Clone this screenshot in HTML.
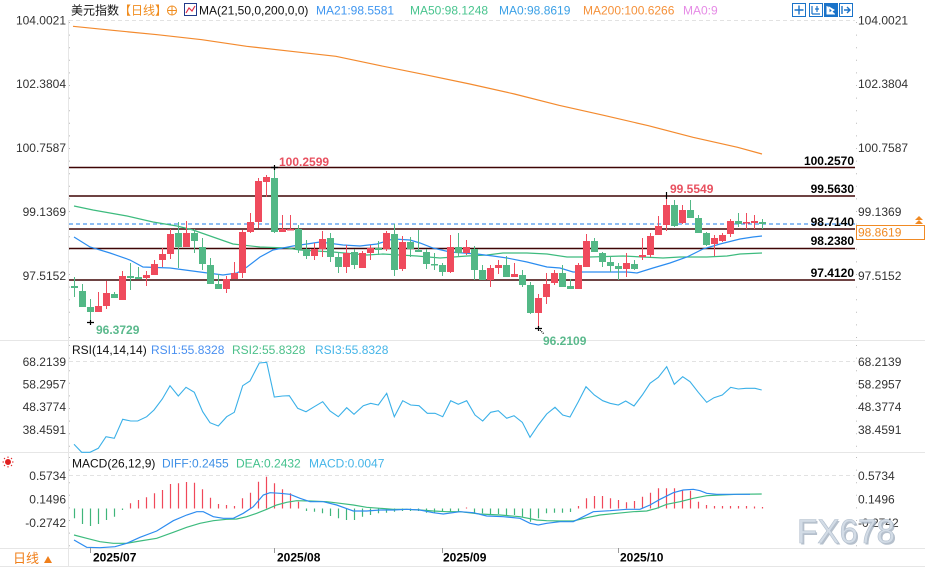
<!DOCTYPE html>
<html><head><meta charset="utf-8"><style>
html,body{margin:0;padding:0;background:#fff;}
svg{display:block;}
text{font-family:"Liberation Sans","Noto Sans CJK SC",sans-serif;font-size:12px;}
.ax{fill:#333;}
.lb{fill:#000;font-weight:bold;}
</style></head><body>
<svg width="925" height="567" viewBox="0 0 925 567" xmlns="http://www.w3.org/2000/svg">
<rect width="925" height="567" fill="#fff"/>
<!-- frame lines -->
<g stroke="#e6e6e6" stroke-width="1" fill="none">
<path d="M0,340.5H925 M0,452.5H925 M0,548.5H925 M0,566.5H925"/>
<path d="M68.5,20V567"/>
</g>
<g stroke="#bbb" stroke-width="1" stroke-dasharray="1,11.6" fill="none">
<path d="M856.5,22V340 M856.5,345V452 M856.5,457V548 M69.5,22V340 M69.5,345V452 M69.5,457V548"/>
</g>
<g stroke="#e2e2e2" stroke-dasharray="4,3" fill="none">
<path d="M69,20.5H855 M69,361.5H855 M69,475.5H855"/>
</g>

<!-- header -->
<text x="71" y="14.5" fill="#111">美元指数</text>
<text x="119" y="14.5" fill="#f08c1e">【日线】</text>
<circle cx="172" cy="10.5" r="4.5" fill="none" stroke="#f08c1e" stroke-width="1"/>
<path d="M167.5,10.5H176.5 M172,6V15" stroke="#f08c1e" stroke-width="1"/>
<rect x="184.5" y="3.5" width="12" height="12" fill="#fff" stroke="#223a8a" stroke-width="1"/>
<polyline points="186,13 189,8 192,11 195,6" fill="none" stroke="#e0304a" stroke-width="1.2"/>
<text x="199" y="14.5" fill="#111">MA(21,50,0,200,0,0)</text>
<text x="316" y="14.5" fill="#3f96f0">MA21:98.5581</text>
<text x="410" y="14.5" fill="#48c48e">MA50:98.1248</text>
<text x="499" y="14.5" fill="#3aa0e6">MA0:98.8619</text>
<text x="583" y="14.5" fill="#f5913a">MA200:100.6266</text>
<text x="683" y="14.5" fill="#e68be6">MA0:9</text>
<!-- top-right icons -->
<g stroke="#1a73c9" stroke-width="1">
<rect x="792.5" y="3.5" width="13" height="13" fill="#fff"/>
<path d="M799,5.5V14.5 M794.5,10H803.5" stroke-width="1.4"/>
<rect x="809.5" y="3.5" width="13" height="13" fill="#fff"/>
<path d="M812,6V14 M812,14H820 M817,6V12 M815,9H819" stroke-width="1.2"/>
<rect x="824.5" y="3.5" width="13" height="13" fill="#1a73c9"/>
<path d="M827,6V14H835 M829,7L834,10L829,13Z" stroke="#fff" fill="#fff" stroke-width="1"/>
<rect x="839.5" y="3.5" width="13" height="13" fill="#fff"/>
<path d="M842,6V14 M844,10H850 M847,7L850,10L847,13" stroke-width="1.4" fill="none"/>
</g>

<!-- price axis labels -->
<g class="ax">
<text x="66" y="24.5" text-anchor="end">104.0021</text>
<text x="66" y="88" text-anchor="end">102.3804</text>
<text x="66" y="152" text-anchor="end">100.7587</text>
<text x="66" y="216" text-anchor="end">99.1369</text>
<text x="66" y="280" text-anchor="end">97.5152</text>
<text x="858" y="24.5">104.0021</text>
<text x="858" y="88">102.3804</text>
<text x="858" y="152">100.7587</text>
<text x="858" y="216">99.1369</text>
<text x="858" y="280">97.5152</text>
</g>

<!-- MA200 -->
<polyline fill="none" stroke="#f38a2e" stroke-width="1.2" points="73,26.3 112.6,30.3 157.3,34.7 201.9,39.7 246.6,46.3 291.2,51.3 335.9,56.3 380.5,65.7 425.1,74.7 469.8,84 514.4,94 559,105.3 603.7,115.3 648.4,125.7 693,137.3 737.6,147.3 762,154"/>

<!-- horizontal levels -->
<g stroke="#3f0505" stroke-width="1.5">
<path d="M69,167.5H855 M69,196H855 M69,229H855 M69,248.5H855 M69,280H855"/>
</g>
<path d="M69,224H855" stroke="#1f7ee8" stroke-width="1" stroke-dasharray="4,3"/>
<g class="lb" text-anchor="end">
<text x="854" y="165">100.2570</text>
<text x="854" y="193">99.5630</text>
<text x="854" y="226">98.7140</text>
<text x="854" y="245">98.2380</text>
<text x="854" y="277">97.4120</text>
</g>
<rect x="856.5" y="225.5" width="68" height="14" fill="#fff" stroke="#f08a24" stroke-width="1"/>
<text x="858" y="236.5" fill="#f08a24">98.8619</text>
<path d="M915,220L919,216L923,220Z M915,224L919,220L923,224Z" fill="#f08a24"/>

<!-- MA50 & MA21 -->
<polyline fill="none" stroke="#3dbb7e" stroke-width="1.2" points="74,206 93,210 127,216 153,222 177,226 193,230 213,237 233,244 260,247 287,248 300,250 333,252 367,255 383,254 417,256 440,258 467,256 487,255 503,253 527,253 547,254 567,257 590,257 623,256 663,258 680,257 707,257 727,256 740,254 762,253"/>
<polyline fill="none" stroke="#2b8cf0" stroke-width="1.2" points="74,237 90,247 110,253 130,260 143,267 170,268 200,272 223,275 237,273 247,267 260,257 273,250 293,246 307,244 320,242 343,245 360,246 377,244 393,239 410,240 420,243 433,248 450,252 477,254 493,256 507,258 527,262 547,267 560,268 573,272 600,272 627,272 637,273 653,268 670,263 687,257 703,249 720,244 740,239 753,237 762,236"/>

<!-- red candles -->
<g fill="#ef4b5d" stroke="none">
<path stroke="#ef4b5d" stroke-width="1" fill="none" d="M98.5,292V312 M106.5,281V309 M122.5,271V300 M146.5,271V286 M154.5,260V275 M162.5,248V267 M170.5,229V259 M186.5,221V247 M226.5,276V293 M234.5,262V279 M242.5,230V278 M250.5,213V233 M258.5,178V228 M266.5,175V197 M282.5,215V232 M290.5,215V229 M314.5,243V260 M322.5,231V257 M346.5,245V273 M362.5,251V268 M370.5,245V260 M386.5,231V251 M402.5,236V271 M450.5,235V273 M466.5,240V255 M490.5,265V287 M498.5,260V274 M514.5,263V277 M538.5,294V328 M546.5,273V304 M554.5,270V285 M578.5,263V289 M586.5,234V267 M626.5,253V277 M642.5,238V260 M650.5,233V257 M658.5,216V235 M666.5,199V231 M682.5,205V224 M714.5,235V256 M722.5,233V242 M730.5,219V237 M746.5,213V229 M754.5,215V229"/>
<rect x="95" y="306" width="7" height="6"/>
<rect x="103" y="293" width="7" height="13"/>
<rect x="119" y="276" width="7" height="24"/>
<rect x="143" y="275" width="7" height="3"/>
<rect x="151" y="264" width="7" height="11"/>
<rect x="159" y="254" width="7" height="6"/>
<rect x="167" y="234" width="7" height="20"/>
<rect x="183" y="233" width="7" height="14"/>
<rect x="223" y="279" width="7" height="10"/>
<rect x="231" y="273" width="7" height="6"/>
<rect x="239" y="232" width="7" height="41"/>
<rect x="247" y="222" width="7" height="10"/>
<rect x="255" y="181" width="7" height="41"/>
<rect x="263" y="177" width="7" height="5"/>
<rect x="279" y="229" width="7" height="3"/>
<rect x="287" y="229" width="7" height="1.5"/>
<rect x="311" y="249" width="7" height="7"/>
<rect x="319" y="239" width="7" height="10"/>
<rect x="343" y="253" width="7" height="14"/>
<rect x="359" y="253" width="7" height="15"/>
<rect x="367" y="248" width="7" height="5"/>
<rect x="383" y="233" width="7" height="16"/>
<rect x="399" y="242" width="7" height="27"/>
<rect x="447" y="247" width="7" height="25"/>
<rect x="463" y="247" width="7" height="6"/>
<rect x="487" y="268" width="7" height="12"/>
<rect x="495" y="265" width="7" height="3"/>
<rect x="511" y="274" width="7" height="3"/>
<rect x="535" y="298" width="7" height="15"/>
<rect x="543" y="284" width="7" height="13"/>
<rect x="551" y="273" width="7" height="10"/>
<rect x="575" y="265" width="7" height="24"/>
<rect x="583" y="241" width="7" height="26"/>
<rect x="623" y="263" width="7" height="6"/>
<rect x="639" y="255" width="7" height="2"/>
<rect x="647" y="236" width="7" height="19"/>
<rect x="655" y="226" width="7" height="9"/>
<rect x="663" y="205" width="7" height="20"/>
<rect x="679" y="210" width="7" height="13"/>
<rect x="711" y="238" width="7" height="6"/>
<rect x="719" y="235" width="7" height="6"/>
<rect x="727" y="221" width="7" height="13"/>
<rect x="743" y="222" width="7" height="1.5"/>
<rect x="751" y="221" width="7" height="2"/>
</g>
<!-- green candles -->
<g fill="#53b886" stroke="none">
<path stroke="#53b886" stroke-width="1" fill="none" d="M74.5,277V297 M82.5,284V307 M90.5,299V322 M114.5,292V298 M130.5,263V290 M138.5,267V279 M178.5,222V268 M194.5,229V253 M202.5,238V270 M210.5,258V284 M218.5,274V289 M274.5,167V233 M298.5,225V253 M306.5,240V259 M330.5,233V262 M338.5,252V273 M354.5,249V269 M378.5,241V255 M394.5,224V276 M410.5,237V257 M418.5,230V252 M426.5,249V269 M434.5,253V270 M442.5,263V276 M458.5,233V257 M474.5,246V280 M482.5,265V280 M506.5,256V277 M522.5,270V287 M530.5,282V314 M562.5,265V287 M570.5,279V289 M594.5,238V252 M602.5,252V267 M610.5,256V272 M618.5,263V280 M634.5,260V270 M674.5,200V227 M690.5,200V218 M698.5,215V233 M706.5,232V246 M738.5,213V227 M762.5,219V229"/>
<rect x="71" y="286" width="7" height="2"/>
<rect x="79" y="291" width="7" height="16"/>
<rect x="87" y="307" width="7" height="5"/>
<rect x="111" y="294" width="7" height="4"/>
<rect x="127" y="276" width="7" height="2"/>
<rect x="135" y="277" width="7" height="2"/>
<rect x="175" y="233" width="7" height="14"/>
<rect x="191" y="233" width="7" height="8"/>
<rect x="199" y="247" width="7" height="17"/>
<rect x="207" y="265" width="7" height="19"/>
<rect x="215" y="284" width="7" height="5"/>
<rect x="271" y="178" width="7" height="54"/>
<rect x="295" y="229" width="7" height="20"/>
<rect x="303" y="249" width="7" height="7"/>
<rect x="327" y="238" width="7" height="19"/>
<rect x="335" y="257" width="7" height="10"/>
<rect x="351" y="252" width="7" height="13"/>
<rect x="375" y="248" width="7" height="2"/>
<rect x="391" y="234" width="7" height="36"/>
<rect x="407" y="242" width="7" height="7"/>
<rect x="415" y="250" width="7" height="2"/>
<rect x="423" y="252" width="7" height="12"/>
<rect x="431" y="264" width="7" height="1.5"/>
<rect x="439" y="265" width="7" height="7"/>
<rect x="455" y="247" width="7" height="6"/>
<rect x="471" y="249" width="7" height="21"/>
<rect x="479" y="270" width="7" height="10"/>
<rect x="503" y="265" width="7" height="12"/>
<rect x="519" y="275" width="7" height="10"/>
<rect x="527" y="285" width="7" height="28"/>
<rect x="559" y="273" width="7" height="14"/>
<rect x="567" y="286" width="7" height="3"/>
<rect x="591" y="241" width="7" height="11"/>
<rect x="599" y="253" width="7" height="9"/>
<rect x="607" y="262" width="7" height="4"/>
<rect x="615" y="266" width="7" height="3"/>
<rect x="631" y="264" width="7" height="5"/>
<rect x="671" y="205" width="7" height="21"/>
<rect x="687" y="210" width="7" height="8"/>
<rect x="695" y="218" width="7" height="15"/>
<rect x="703" y="233" width="7" height="12"/>
<rect x="735" y="221" width="7" height="3"/>
<rect x="759" y="222" width="7" height="2"/>
</g>

<!-- annotations -->
<g stroke="#000" stroke-width="1.2" fill="none">
<path d="M271,167.5H278 M274.5,165V170"/>
<path d="M666.5,192V199"/>
<path d="M87,322.5H94 M90.5,320V325"/>
<path d="M535,328.5H542 M538.5,326V331"/>
<path d="M540,330L544,334" stroke-dasharray="1,1"/>
</g>
<g font-weight="bold">
<text x="279" y="166" fill="#e8505f">100.2599</text>
<text x="670" y="193" fill="#e8505f">99.5549</text>
<text x="96" y="334" fill="#5ab98c">96.3729</text>
<text x="543" y="345" fill="#5ab98c">96.2109</text>
</g>

<!-- RSI panel -->
<text x="72" y="354" fill="#111">RSI(14,14,14)</text>
<text x="151" y="354" fill="#4a90f0">RSI1:55.8328</text>
<text x="232" y="354" fill="#4cc08a">RSI2:55.8328</text>
<text x="315" y="354" fill="#45b5e8">RSI3:55.8328</text>
<g class="ax">
<text x="66" y="366" text-anchor="end">68.2139</text>
<text x="66" y="388.5" text-anchor="end">58.2957</text>
<text x="66" y="411" text-anchor="end">48.3774</text>
<text x="66" y="434" text-anchor="end">38.4591</text>
<text x="858" y="366">68.2139</text>
<text x="858" y="388.5">58.2957</text>
<text x="858" y="411">48.3774</text>
<text x="858" y="434">38.4591</text>
</g>
<polyline fill="none" stroke="#3ab0e8" stroke-width="1.1" points="74,444.3 81.7,452.3 90,452.3 98.3,448.3 106,436.7 114.3,438.3 122.7,419.3 130.7,421 137.7,421 146.7,416.7 154,410 162.3,399 170,385.7 178.3,396 186,387.3 194.3,392.3 202.7,411.7 210,422.7 218.3,426 226.7,416.7 234.3,412.3 242.7,385.7 250,381 259.3,363 266.7,362.3 274.3,397 282.7,396 289.3,395.7 297.7,408.3 306,411.7 314.3,406.7 322.7,401.7 330,411 338.3,416.7 346.7,407.7 354,414.3 363.3,405.7 370.7,403.3 378.3,405 386.7,393.3 394.3,416.7 402.7,400.7 410.7,405 419,405.7 427.3,413.3 435,413.3 442.7,416.7 450.7,400.7 458.3,404.3 466.7,400.7 475,415 482.7,421 490.7,412.3 498.3,410.7 506.7,418.3 514,415.7 522.3,422.3 530,437.3 538.3,425 546.7,414 555,407.3 562.7,415 570,417 578.3,401.7 586,386.7 594.3,395 602.7,400.7 610,403.3 618.3,405 625.7,401 634,406 642.3,395 650,383.3 658.3,377.3 666.7,366.7 674.3,384.3 682.7,376.7 690,381.7 698.3,392.3 706.7,402.3 714,397.7 722.3,395 730.7,387.3 738.3,389 746,388.3 755,388.3 761.7,390"/>

<!-- MACD panel -->
<g transform="translate(8,462)" stroke="#e02020" stroke-width="1" fill="none">
<circle r="2.5" fill="#e02020"/>
<path d="M0,-5.5V-4 M0,4V5.5 M-5.5,0H-4 M4,0H5.5 M-4,-4L-3,-3 M3,3L4,4 M-4,4L-3,3 M3,-3L4,-4"/>
</g>
<text x="72" y="467.5" fill="#111">MACD(26,12,9)</text>
<text x="162" y="467.5" fill="#3d8fe6">DIFF:0.2455</text>
<text x="236" y="467.5" fill="#43c18d">DEA:0.2432</text>
<text x="309" y="467.5" fill="#45b5e8">MACD:0.0047</text>
<g class="ax">
<text x="66" y="480" text-anchor="end">0.5734</text>
<text x="66" y="503.5" text-anchor="end">0.1496</text>
<text x="66" y="527" text-anchor="end">-0.2742</text>
<text x="858" y="480">0.5734</text>
<text x="858" y="503.5">0.1496</text>
<text x="858" y="527">-0.2742</text>
</g>
<path fill="none" stroke="#3fb57a" stroke-width="1.2" d="M74.5,508.5V518.3 M82.5,508.5V524 M90.5,508.5V526 M98.5,508.5V524 M106.5,508.5V520 M114.5,508.5V516.7 M122.5,508.5V510 M306.5,508.5V511 M314.5,508.5V511.7 M322.5,508.5V513.3 M330.5,508.5V516 M338.5,508.5V518.3 M346.5,508.5V520 M354.5,508.5V520 M362.5,508.5V516.7 M370.5,508.5V515 M378.5,508.5V513.3 M386.5,508.5V512.7 M394.5,508.5V511.7 M402.5,508.5V511 M410.5,508.5V511 M418.5,508.5V511 M426.5,508.5V512.7 M434.5,508.5V512.7 M442.5,508.5V511.7 M450.5,508.5V511.7 M458.5,508.5V511.7 M474.5,508.5V513.3 M482.5,508.5V513.3 M490.5,508.5V514 M498.5,508.5V514 M506.5,508.5V515 M514.5,508.5V515 M522.5,508.5V516.7 M530.5,508.5V521.7 M538.5,508.5V518.3 M546.5,508.5V513.3 M554.5,508.5V512.7 M562.5,508.5V512.7 M570.5,508.5V512"/>
<path fill="none" stroke="#f0485a" stroke-width="1.2" d="M130.5,508.5V503.3 M138.5,508.5V500 M146.5,508.5V497.3 M154.5,508.5V493.3 M162.5,508.5V490 M170.5,508.5V484 M178.5,508.5V483.3 M186.5,508.5V482 M194.5,508.5V482.7 M202.5,508.5V489.3 M210.5,508.5V497.7 M218.5,508.5V504 M226.5,508.5V505 M234.5,508.5V506 M242.5,508.5V498.3 M250.5,508.5V492.7 M258.5,508.5V481.7 M266.5,508.5V476.7 M274.5,508.5V483.3 M282.5,508.5V489.3 M290.5,508.5V493.3 M298.5,508.5V501.7 M466.5,508.5V507.5 M578.5,508.5V506 M586.5,508.5V498.3 M594.5,508.5V496 M602.5,508.5V496 M610.5,508.5V498.3 M618.5,508.5V500 M626.5,508.5V502.3 M634.5,508.5V501 M642.5,508.5V496.7 M650.5,508.5V492.7 M658.5,508.5V488.3 M666.5,508.5V488.3 M674.5,508.5V488.3 M682.5,508.5V490 M690.5,508.5V490.7 M698.5,508.5V501.7 M706.5,508.5V505 M714.5,508.5V506 M722.5,508.5V506 M730.5,508.5V506 M738.5,508.5V506 M746.5,508.5V506 M754.5,508.5V506.5 M762.5,508.5V507"/>
<polyline fill="none" stroke="#3dbb7e" stroke-width="1.2" points="74,535 86.7,538.3 100,541.7 113.3,543.3 126.7,543.3 140,541 156.7,538.3 173.3,532.3 186.7,527.3 200,523.3 213.3,520.7 226.7,519.3 236.7,519 246.7,516.7 256.7,513.3 266.7,509.3 276.7,505 286.7,502.3 296.7,500.7 310,501 326.7,501.7 340,503.3 353.3,505 366.7,507.3 380,508.3 393.3,509.3 406.7,509.3 420,510 433.3,511 446.7,511.7 460,511.7 480,514 500,515 520,516.7 536.7,520 546.7,520.7 560,521 573.3,521 586.7,517.7 600,515 616.7,513.3 633.3,511.7 646.7,511 656.7,508.3 666.7,504.3 680,501.7 693.3,498.3 706.7,495.7 720,495 736.7,494.3 761.7,494"/>
<polyline fill="none" stroke="#2d8cf0" stroke-width="1.2" points="74,540 86.7,547.3 100,547.7 115,546.7 126.7,543.3 140,537.3 156.7,531 173.3,520.7 186.7,515 196.7,511.7 203.3,511.7 213.3,516.7 223.3,518.3 233.3,518.3 243.3,513.3 253.3,506.7 263.3,495 270,492.7 280,493.3 290,494.3 300,498.3 310,501.7 323.3,501.7 336.7,505 353.3,511 366.7,511 380,510 393.3,510 406.7,509.3 420,510 433.3,512.7 443.3,514 460,511.7 473.3,512.7 486.7,516 503.3,516.7 520,518.3 530,523.3 538.3,525 546.7,523.3 560,521.7 573.3,521.7 583.3,516.7 593.3,511.7 610,510.7 626.7,509.3 640,509.3 650,505 660,499.3 673.3,492.7 683.3,490 693.3,489.3 700,490.7 706.7,493.3 716.7,494.3 726.7,494.3 750,494.3"/>

<!-- watermark -->
<text x="798.5" y="544.5" fill="#9eabbb" fill-opacity="0.75" textLength="98" lengthAdjust="spacingAndGlyphs" style="font-size:34px">FX678</text>
<text x="797" y="543" fill="#d3dce6" stroke="#b4c0ce" stroke-width="0.6" textLength="98" lengthAdjust="spacingAndGlyphs" style="font-size:34px">FX678</text>

<!-- date axis -->
<path d="M90.5,548V553 M274.5,548V553 M442.5,548V553 M618.5,548V553" stroke="#999" stroke-width="1"/>
<g class="lb">
<text x="93" y="561.5">2025/07</text>
<text x="277" y="561.5">2025/08</text>
<text x="443" y="561.5">2025/09</text>
<text x="620" y="561.5">2025/10</text>
</g>
<text x="13" y="563" fill="#f07f1a" style="font-size:13px">日线</text>
<path d="M44,563L48,556L52,563Z" fill="#f07f1a"/>
</svg>
</body></html>
